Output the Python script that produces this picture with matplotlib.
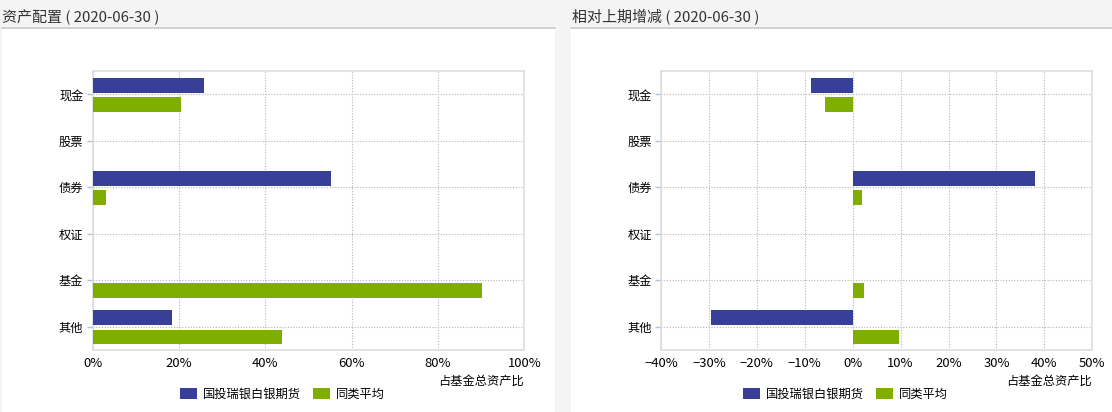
import matplotlib
matplotlib.use("Agg")
import matplotlib.pyplot as plt
from matplotlib.patches import Rectangle, Patch
from matplotlib.lines import Line2D
from matplotlib.ticker import FuncFormatter, MultipleLocator

plt.rcParams['font.family'] = ['Noto Sans CJK SC', 'DejaVu Sans']

categories = ["现金", "股票", "债券", "权证", "基金", "其他"]
series_names = ["国投瑞银白银期货", "同类平均"]

# 资产配置 (% of total assets)
alloc_fund = [25.8, 0, 55.2, 0, 0, 18.4]
alloc_peer = [20.5, 0, 3.1, 0, 90.3, 43.9]

# 相对上期增减 (%)
change_fund = [-8.7, 0, 38.1, 0, 0, -29.6]
change_peer = [-5.8, 0, 1.9, 0, 2.4, 9.7]

titles = ["资产配置 ( 2020-06-30 )", "相对上期增减 ( 2020-06-30 )"]
xlabel = "占基金总资产比"

BLUE = "#373f98"
GREEN = "#7fad00"

W, H = 1112, 412
fig = plt.figure(figsize=(W / 100, H / 100), dpi=100)
fig.patch.set_facecolor("#f4f4f4")


def box(x0, y0, x1, y1):
    # pixel box (top-left origin) -> figure fraction rect
    return [x0 / W, 1 - y1 / H, (x1 - x0) / W, (y1 - y0) / H]


def pct(v, pos):
    s = f"{v:.0f}%"
    return s.replace("-", "\u2212")


panels = [
    dict(panel=(2, 555), ax=(92.5, 71, 524.3, 350), xlim=(0, 100), step=20,
         data=(alloc_fund, alloc_peer), title=titles[0]),
    dict(panel=(571, 1112), ax=(661, 71, 1092.3, 350), xlim=(-40, 50), step=10,
         data=(change_fund, change_peer), title=titles[1]),
]

ypos = list(range(len(categories)))

for p in panels:
    px0, px1 = p["panel"]
    # white panel and title underline
    fig.patches.append(Rectangle((px0 / W, 0), (px1 - px0) / W, 1 - 29 / H,
                                 transform=fig.transFigure, facecolor="white",
                                 edgecolor="none", zorder=-10))
    fig.lines.append(Line2D([px0 / W, px1 / W], [1 - 28.3 / H] * 2,
                            transform=fig.transFigure, color="#cccccc", lw=1.2))
    fig.text((px0 + 0.5) / W, 1 - 17 / H, p["title"], fontsize=10.8, color="#333333",
             ha="left", va="center")

    x0, y0, x1, y1 = p["ax"]
    ax = fig.add_axes(box(x0, y0, x1, y1))
    fund, peer = p["data"]
    ax.barh([y - 0.19 for y in ypos], fund, height=0.32, color=BLUE, zorder=3)
    ax.barh([y + 0.22 for y in ypos], peer, height=0.32, color=GREEN, zorder=3)

    ax.set_xlim(*p["xlim"])
    ax.set_ylim(5.5, -0.5)
    ax.xaxis.set_major_locator(MultipleLocator(p["step"]))
    ax.xaxis.set_major_formatter(FuncFormatter(pct))
    ax.set_yticks(ypos)
    ax.set_yticklabels(categories)
    ax.grid(True, linestyle=(0, (1, 1.5)), color="#b5b5b5", lw=0.8, zorder=1)
    ax.set_axisbelow(True)
    for s in ax.spines.values():
        s.set_color("#dddddd")
        s.set_linewidth(1.2)
    ax.tick_params(axis="x", length=0, pad=5, labelsize=9.4, colors="black")
    ax.tick_params(axis="y", length=4.5, width=1, color="#a9c3dc", pad=2,
                   labelsize=8.8, labelcolor="black")

    fig.text(x1 / W, 1 - 381 / H, xlabel, fontsize=8.8, ha="right", va="center")

    handles = [Patch(facecolor=BLUE, edgecolor="none"),
               Patch(facecolor=GREEN, edgecolor="none")]
    fig.legend(handles, series_names, loc="center",
               bbox_to_anchor=((px0 + px1) / 2 / W + 4 / W, 1 - 394.5 / H),
               ncol=2, frameon=False, fontsize=8.8, handlelength=1.4,
               handleheight=1.0, handletextpad=0.5, columnspacing=1.0)

fig.savefig("out.png", dpi=100, facecolor=fig.get_facecolor())
